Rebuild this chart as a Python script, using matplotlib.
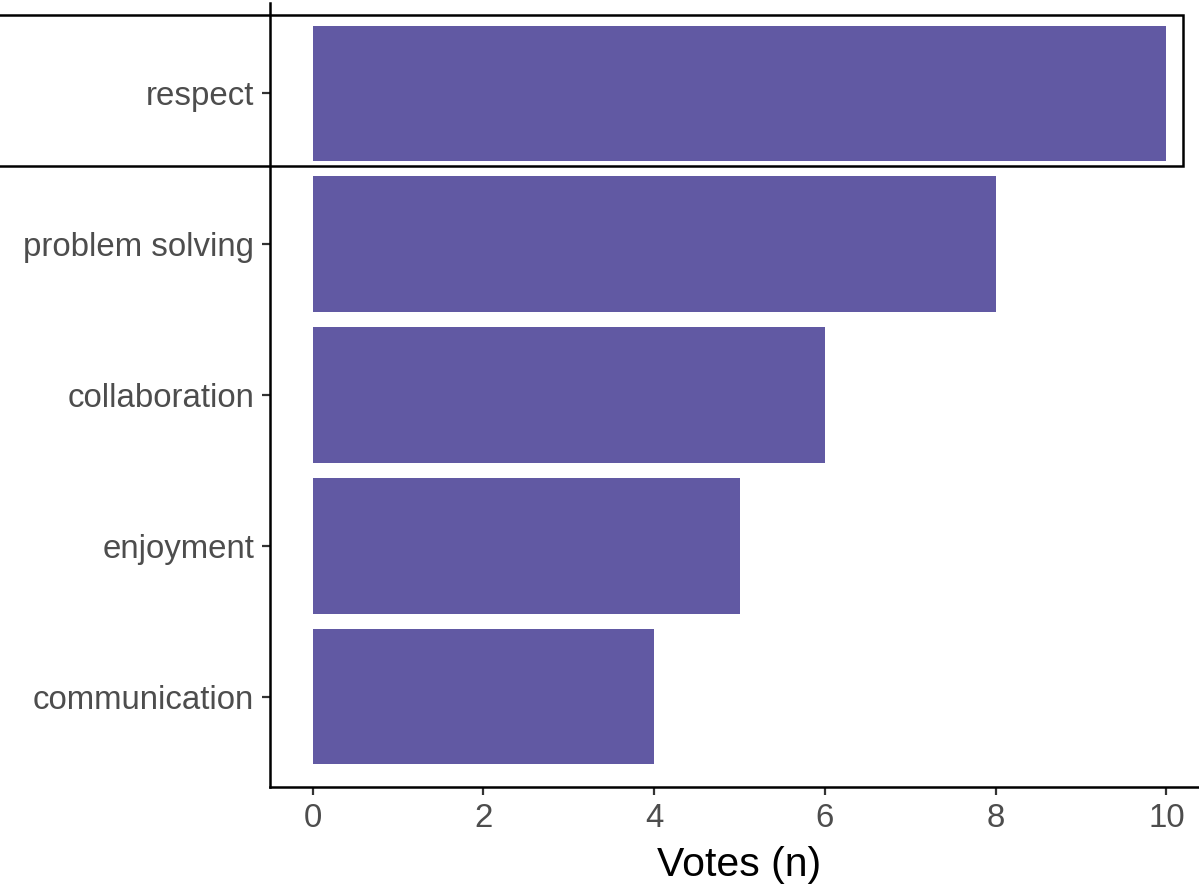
import numpy as np
import matplotlib
matplotlib.use('Agg')
import matplotlib.pyplot as plt
from matplotlib.patches import Rectangle

plt.rcParams['font.family'] = ['Liberation Sans', 'DejaVu Sans']

# values
values = [10, 8, 6, 5, 4]
categories = ['respect', 'problem solving', 'collaboration', 'enjoyment', 'communication']
xticks = [0, 2, 4, 6, 8, 10]

# ggplot puts the first level at the bottom
y = np.arange(len(categories), 0, -1)

fig = plt.figure(figsize=(11.99, 8.96), dpi=100)
ax = fig.add_axes([270 / 1199, 109 / 896, 939 / 1199, 784 / 896])

ax.barh(y, values, height=0.9, color='#6159A3')

ax.set_xlim(-0.5, 10.5)
ax.set_ylim(0.4, len(categories) + 0.6)
ax.set_xticks(xticks)
ax.set_yticks(y)
ax.set_yticklabels(categories)
ax.set_xlabel("Votes (n)", fontsize=29.5, color='black', labelpad=9)

for side in ['top', 'right']:
    ax.spines[side].set_visible(False)
for side in ['left', 'bottom']:
    ax.spines[side].set_linewidth(1.8)
    ax.spines[side].set_color('black')
ax.tick_params(axis='both', length=5.5, width=1.6, color='#333333',
               labelsize=23.8, labelcolor='#4D4D4D')
ax.tick_params(axis='y', pad=6)
ax.tick_params(axis='x', pad=6)

# highlight box around the top bar, drawn outside the panel too
box = Rectangle((-4.0, 4.52), 14.2, 1.0, fill=False, edgecolor='black',
                linewidth=1.8, clip_on=False, zorder=5)
ax.add_patch(box)

fig.savefig('out.png', dpi=100)
